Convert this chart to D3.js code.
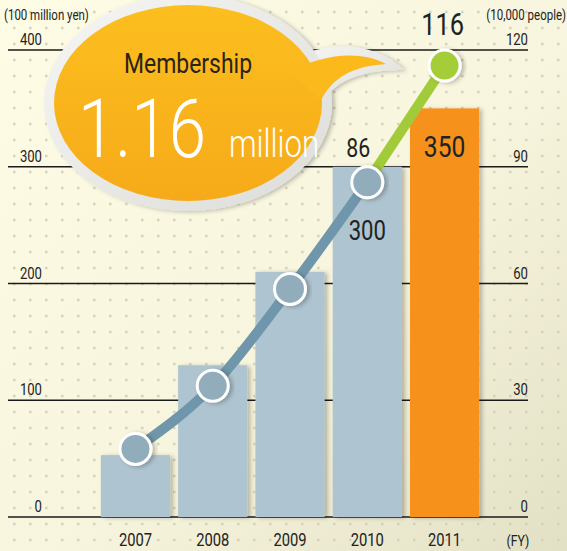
<!DOCTYPE html>
<html>
<head>
<meta charset="utf-8">
<script src="https://cdn.jsdelivr.net/npm/d3@7"></script>
<style>
    body { margin: 0; overflow: hidden; }
    text { font-family: Roboto, 'Liberation Sans', sans-serif; }
</style>
</head>
<body>
<div id="svg"></div>
<script>
// data
var years = ['2007', '2008', '2009', '2010', '2011'];
var sales = [53, 130, 210, 300, 350];          // 100 million yen (bars)
var members = [17.5, 33.7, 58.6, 86, 116];     // 10,000 people (line)
var leftTicks = [0, 100, 200, 300, 400];
var rightTicks = [0, 30, 60, 90, 120];

var width = 567;
var height = 551;

var svg = d3.select('#svg').append('svg')
    .attr('width', width)
    .attr('height', height);

var defs = svg.append('defs');

// condensed text helper (no narrow font installed, so squeeze horizontally)
function label(parent, x, y, txt, size, anchor, fill, weight) {
    return parent.append('text')
        .attr('transform', 'translate(' + x + ',' + y + ') scale(0.82,1)')
        .attr('text-anchor', anchor || 'start')
        .style('font-size', size + 'px')
        .style('font-weight', weight || 400)
        .attr('fill', fill || '#222')
        .text(txt);
}

// background gradient
var bg = defs.append('linearGradient').attr('id', 'bg')
    .attr('x1', 0).attr('y1', 0).attr('x2', 1).attr('y2', 1);
bg.append('stop').attr('offset', '0%').attr('stop-color', '#fffce6');
bg.append('stop').attr('offset', '55%').attr('stop-color', '#f8f5de');
bg.append('stop').attr('offset', '100%').attr('stop-color', '#e2e0c4');

var orange = defs.append('linearGradient').attr('id', 'orangeFill')
    .attr('x1', 0).attr('y1', 0).attr('x2', 0).attr('y2', 1);
orange.append('stop').attr('offset', '0%').attr('stop-color', '#fcbf1f');
orange.append('stop').attr('offset', '100%').attr('stop-color', '#f6aa19');

var ring = defs.append('linearGradient').attr('id', 'ringFill')
    .attr('x1', 0).attr('y1', 0).attr('x2', 1).attr('y2', 1);
ring.append('stop').attr('offset', '0%').attr('stop-color', '#f6f6f4');
ring.append('stop').attr('offset', '100%').attr('stop-color', '#dcdcd9');

var shadow = defs.append('filter').attr('id', 'shadow')
    .attr('x', '-20%').attr('y', '-20%').attr('width', '140%').attr('height', '140%');
shadow.append('feDropShadow').attr('dx', 3).attr('dy', 1).attr('stdDeviation', 2)
    .attr('flood-color', '#000').attr('flood-opacity', 0.25);

svg.append('rect')
    .attr('width', width)
    .attr('height', height)
    .attr('fill', 'url(#bg)');

// dotted background
var dots = [];
for (var dx = 14.3; dx < width; dx += 16) {
    for (var dy = 12; dy < height; dy += 16) {
        dots.push([dx, dy]);
    }
}
svg.append('g').selectAll('rect')
    .data(dots)
    .enter().append('rect')
    .attr('x', function (d) { return d[0] - 1.2; })
    .attr('y', function (d) { return d[1] - 1.2; })
    .attr('width', 2.4)
    .attr('height', 2.4)
    .attr('fill', '#d3d0bb');

// scales
var x = d3.scaleBand().domain(years).range([97, 483]).paddingInner(0.105).paddingOuter(0.05);
var yLeft = d3.scaleLinear().domain([0, 400]).range([517, 50]);
var yRight = d3.scaleLinear().domain([0, 120]).range([517, 50]);

// grid lines
svg.append('g').selectAll('line')
    .data(leftTicks)
    .enter().append('line')
    .attr('x1', 8)
    .attr('x2', 528)
    .attr('y1', function (d) { return yLeft(d); })
    .attr('y2', function (d) { return yLeft(d); })
    .attr('stroke', '#1a1a1a')
    .attr('stroke-width', 1.3);

// tick labels
var axisText = svg.append('g');
leftTicks.forEach(function (d) {
    label(axisText, 42, yLeft(d) - 5, d, 16, 'end');
});
rightTicks.forEach(function (d) {
    label(axisText, 528, yRight(d) - 5, d, 16, 'end');
});
label(axisText, 4, 20, '(100 million yen)', 14, 'start');
label(axisText, 566, 20, '(10,000 people)', 14, 'end');

// bars
svg.append('g').selectAll('rect')
    .data(sales)
    .enter().append('rect')
    .attr('x', function (d, i) { return x(years[i]); })
    .attr('y', function (d) { return yLeft(d); })
    .attr('width', x.bandwidth())
    .attr('height', function (d) { return yLeft(0) - yLeft(d); })
    .attr('fill', function (d, i) { return i === years.length - 1 ? '#f6921e' : '#aec4d0'; })
    .attr('filter', 'url(#shadow)');

// x labels
years.forEach(function (d) {
    label(axisText, x(d) + x.bandwidth() / 2, 546, d, 18, 'middle');
});
label(axisText, 518, 546, '(FY)', 15, 'middle');

// speech bubble
var bubble = svg.append('g').attr('filter', 'url(#shadow)');
bubble.append('path')
    .attr('d', 'M 288,62 C 318,42 372,38 404,70 C 374,70 336,74 318,108 Z')
    .attr('fill', 'url(#ringFill)');
bubble.append('ellipse')
    .attr('cx', 188).attr('cy', 103)
    .attr('rx', 144).attr('ry', 108)
    .attr('fill', 'url(#ringFill)');
svg.append('ellipse')
    .attr('cx', 188).attr('cy', 103)
    .attr('rx', 134).attr('ry', 98)
    .attr('fill', 'url(#orangeFill)');
svg.append('path')
    .attr('d', 'M 290,72 C 322,54 360,50 386,64 C 360,66 336,72 321,100 Z')
    .attr('fill', '#fbb91c');

label(svg, 188, 73, 'Membership', 28, 'middle', '#2a2418');
label(svg, 78, 157, '1.16', 82, 'start', '#ffffff', 300);
label(svg, 229, 157, 'million', 38, 'start', '#ffffff', 300);

// membership line
var xc = function (i) { return x(years[i]) + x.bandwidth() / 2; };
var line = d3.line()
    .x(function (d) { return xc(d.i); })
    .y(function (d) { return yRight(d.v); })
    .curve(d3.curveMonotoneX);
var pts = members.map(function (v, i) { return { i: i, v: v }; });

svg.append('path')
    .attr('d', line(pts.slice(3)))
    .attr('fill', 'none')
    .attr('stroke', '#a2cb3a')
    .attr('stroke-width', 10);
svg.append('path')
    .attr('d', line(pts.slice(0, 4)))
    .attr('fill', 'none')
    .attr('stroke', '#6f96aa')
    .attr('stroke-width', 10);

svg.append('g').selectAll('circle')
    .data(pts)
    .enter().append('circle')
    .attr('cx', function (d) { return xc(d.i); })
    .attr('cy', function (d) { return yRight(d.v); })
    .attr('r', 15.5)
    .attr('fill', function (d) { return d.i === 4 ? '#a5cd39' : '#91adbc'; })
    .attr('stroke', '#ffffff')
    .attr('stroke-width', 3)
    .attr('filter', 'url(#shadow)');

// value labels
label(svg, xc(3) - 9, 157, members[3], 26, 'middle');
label(svg, xc(4) - 2, 35, members[4], 31, 'middle');
label(svg, xc(3), 240, sales[3], 27, 'middle');
label(svg, xc(4), 157, sales[4], 30, 'middle');
</script>
</body>
</html>
